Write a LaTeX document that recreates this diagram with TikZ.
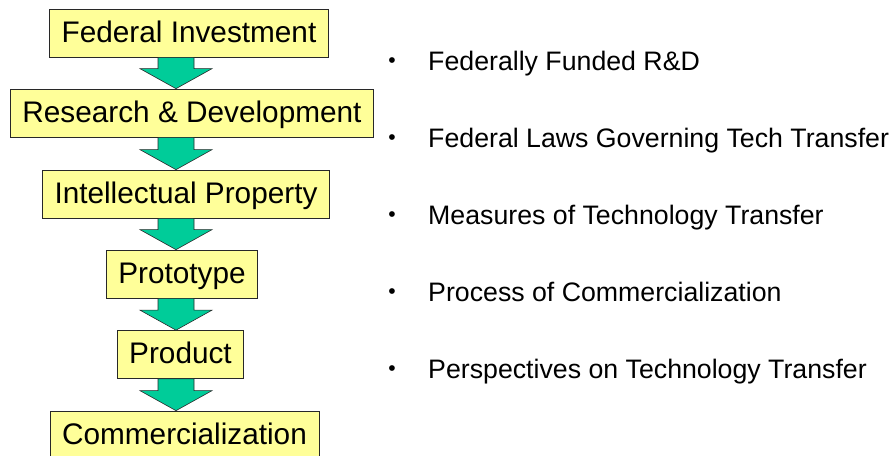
\documentclass[tikz,border=0pt]{standalone}
\usepackage{fontspec}
\setmainfont{Liberation Sans}
\usepackage{tikz}
\usetikzlibrary{calc, positioning}
\usepackage{xcolor}
\definecolor{cBox}{RGB}{255,255,153}
\definecolor{cArrow}{RGB}{0,204,153}
\definecolor{cLine}{RGB}{40,40,40}
\tikzset{
  stagebox/.style={rectangle, draw=cLine, line width=0.6pt, fill=cBox,
                   font=\fontsize{25.4}{30}\selectfont, inner xsep=0.36cm,
                   inner ysep=0pt, minimum height=1.44cm,
                   text height=0.69cm, text depth=0.12cm},
  bulletitem/.style={anchor=base west, inner sep=0pt,
                     font=\fontsize{22.8}{27}\selectfont},
  bulletdot/.style={anchor=base, inner sep=0pt,
                    font=\fontsize{18}{21}\selectfont},
  blockarrow/.style={draw=cLine, line width=0.5pt, fill=cArrow}
}

\begin{document}
\begin{tikzpicture}[x=0.03cm, y=0.03cm]
  \useasboundingbox (0,0) rectangle (896,456);

  % Stages
  \node[stagebox] (fi)    at (189,423)   {Federal Investment};
  \node[stagebox] (rd)    at (192,343)   {Research \& Development};
  \node[stagebox] (ip)    at (186,262)   {Intellectual Property};
  \node[stagebox] (proto) at (182,182)   {Prototype};
  \node[stagebox] (prod)  at (180.5,101.5) {Product};
  \node[stagebox] (comm)  at (184.5,21)  {Commercialization};

  % Block arrows, all on one column
  \coordinate (axis) at (176,0);
  \foreach \a/\b in {fi/rd, rd/ip, ip/proto, proto/prod, prod/comm} {
    \draw[blockarrow] let \p1 = (\a.south -| axis), \p2 = (\b.north -| axis) in
      (\x1-0.54cm,\y1) -- (\x1-0.54cm,\y2+0.6cm) -- (\x1-1.08cm,\y2+0.6cm)
      -- (\x2,\y2) -- (\x1+1.08cm,\y2+0.6cm) -- (\x1+0.54cm,\y2+0.6cm)
      -- (\x1+0.54cm,\y1) -- cycle;
  }

  % Topics
  \foreach \i/\y/\t in {1/385.3/Federally Funded R\&D,
                        2/308/Federal Laws Governing Tech Transfer,
                        3/231/Measures of Technology Transfer,
                        4/154/Process of Commercialization,
                        5/77/Perspectives on Technology Transfer} {
    \node[bulletdot] (dot\i) at (392,\y+3) {•};
    \node[bulletitem] (topic\i) at (428,\y) {\t};
  }
\end{tikzpicture}
\end{document}
